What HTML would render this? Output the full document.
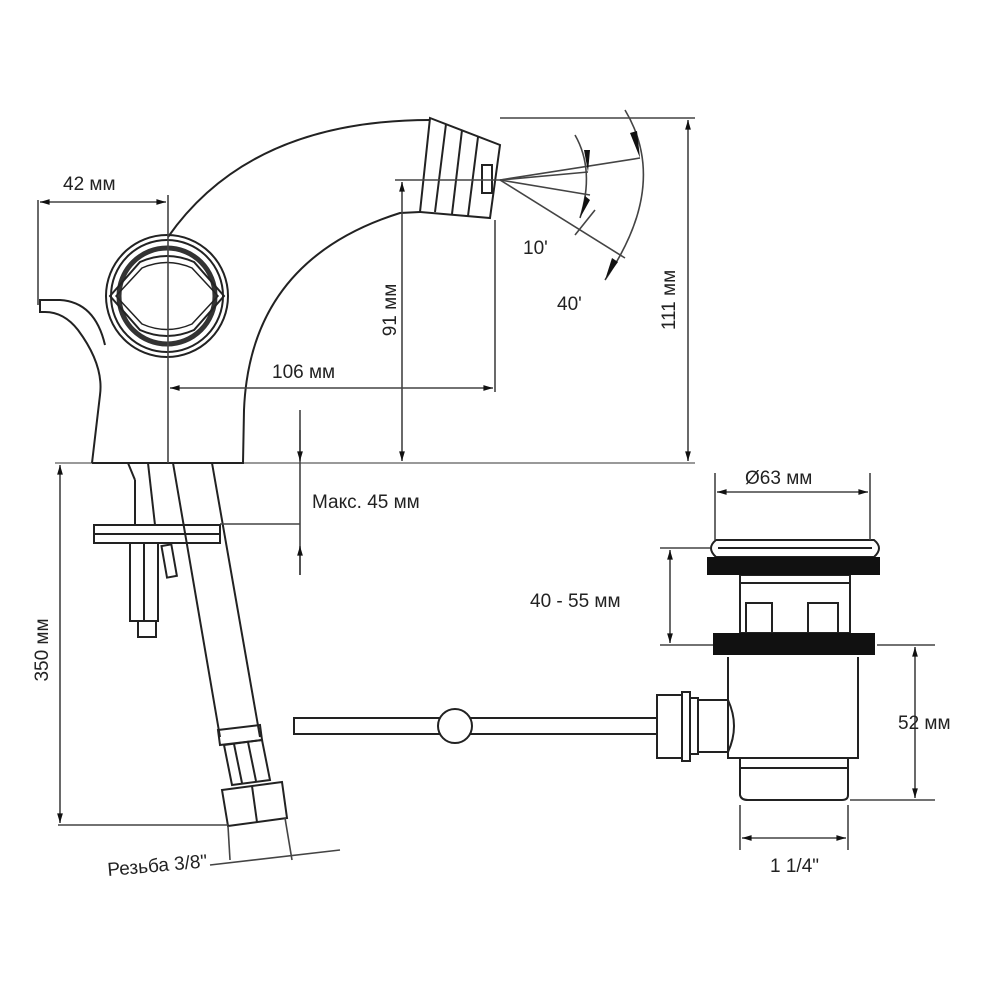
<!DOCTYPE html>
<html><head><meta charset="utf-8"><style>html,body{margin:0;padding:0;background:#fff}svg{display:block}text{font-family:"Liberation Sans",sans-serif;font-size:19px;fill:#222}</style></head><body>
<svg width="1000" height="1000" viewBox="0 0 1000 1000" xmlns="http://www.w3.org/2000/svg">
<defs><marker id="a" viewBox="0 0 10 10" refX="10" refY="5" markerWidth="8" markerHeight="6" orient="auto-start-reverse"><path d="M0,2 L10,5 L0,8z" fill="#111"/></marker></defs>
<g fill="none" stroke="#222" stroke-width="2">
<line x1="55" y1="463" x2="695" y2="463" stroke="#999"/>
<path d="M92,463 L100,395 Q104,365 78,330 Q64,312 45,312 L40,312 L40,300 L60,300 Q95,302 105,345"/>
<path d="M92,463 L243,463 L244,410 Q250,260 400,213 L420,212"/>
<path d="M168,237 Q250,120 430,120"/>
<polygon points="430,118 500,145 490,218 420,212"/>
<line x1="446" y1="124" x2="435" y2="212"/><line x1="462" y1="130" x2="452" y2="214"/><line x1="478" y1="137" x2="468" y2="216"/>
<rect x="482" y="165" width="10" height="28"/>
<circle cx="167" cy="296" r="61"/><circle cx="167" cy="296" r="56"/>
<circle cx="167" cy="296" r="48" stroke-width="5" stroke="#333"/>
<path d="M110,296 L140,262 Q167,250 194,262 L224,296 L194,330 Q167,342 140,330 Z" stroke-width="2"/>
<path d="M116,296 L142,268 Q167,257 192,268 L218,296 L192,324 Q167,335 142,324 Z" stroke-width="1.5"/>
<line x1="128" y1="463" x2="135" y2="480"/><line x1="148" y1="463" x2="155" y2="525"/>
<line x1="173" y1="463" x2="220" y2="737"/><line x1="212" y1="463" x2="260" y2="737"/>
<line x1="135" y1="480" x2="135" y2="525"/>
<rect x="94" y="525" width="126" height="18"/><line x1="94" y1="534" x2="220" y2="534"/>
<rect x="130" y="543" width="28" height="78"/><line x1="144" y1="543" x2="144" y2="621"/>
<rect x="138" y="621" width="18" height="16"/>
<rect x="164" y="545" width="10" height="32" transform="rotate(-10 169 560)"/>
<polygon points="218,730 260,725 262,740 220,745"/>
<polygon points="224,745 262,740 270,780 232,785"/>
<line x1="234" y1="744" x2="242" y2="783"/><line x1="248" y1="742" x2="256" y2="781"/>
<polygon points="222,790 282,782 287,818 228,826"/><line x1="252" y1="786" x2="257" y2="822"/>
<rect x="294" y="718" width="363" height="16"/>
<circle cx="455" cy="726" r="17" fill="#fff"/>
<rect x="657" y="695" width="25" height="63"/><rect x="682" y="692" width="8" height="69"/><rect x="690" y="698" width="8" height="56"/>
<path d="M698,700 L728,700 Q740,726 728,752 L698,752"/>
<path d="M728,657 L728,758 L858,758 L858,657"/>
<path d="M740,758 L740,795 Q741,800 748,800 L842,800 Q848,800 848,795 L848,758"/><line x1="740" y1="768" x2="848" y2="768"/>
<rect x="740" y="575" width="110" height="58"/><line x1="740" y1="583" x2="850" y2="583"/>
<rect x="746" y="603" width="26" height="30"/><rect x="808" y="603" width="30" height="30"/>
<path d="M716,540 L874,540 Q884,548 874,557 L716,557 Q706,548 716,540z"/><line x1="718" y1="548" x2="872" y2="548"/>
</g>
<rect x="707" y="557" width="173" height="18" fill="#111"/>
<rect x="713" y="633" width="162" height="22" fill="#111"/>
<g fill="none" stroke="#444" stroke-width="1.6">
<line x1="38" y1="200" x2="38" y2="305"/><line x1="168" y1="195" x2="168" y2="463"/>
<line x1="40" y1="202" x2="166" y2="202" marker-start="url(#a)" marker-end="url(#a)"/>
<line x1="495" y1="220" x2="495" y2="392"/>
<line x1="170" y1="388" x2="493" y2="388" marker-start="url(#a)" marker-end="url(#a)"/>
<line x1="395" y1="180" x2="500" y2="180"/>
<line x1="402" y1="182" x2="402" y2="461" marker-start="url(#a)" marker-end="url(#a)"/>
<line x1="500" y1="118" x2="695" y2="118"/>
<line x1="688" y1="120" x2="688" y2="461" marker-start="url(#a)" marker-end="url(#a)"/>
<line x1="300" y1="410" x2="300" y2="575"/><line x1="220" y1="524" x2="300" y2="524"/>
<line x1="300" y1="430" x2="300" y2="461" marker-end="url(#a)"/><line x1="300" y1="575" x2="300" y2="546" marker-end="url(#a)"/>
<line x1="60" y1="465" x2="60" y2="823" marker-start="url(#a)" marker-end="url(#a)"/>
<line x1="58" y1="825" x2="228" y2="825"/>
<line x1="228" y1="826" x2="230" y2="860"/><line x1="285" y1="818" x2="292" y2="860"/>
<line x1="210" y1="865" x2="340" y2="850"/>
<line x1="500" y1="180" x2="640" y2="158"/><line x1="500" y1="180" x2="588" y2="172"/>
<line x1="500" y1="180" x2="590" y2="195"/><line x1="500" y1="180" x2="625" y2="258"/>
<line x1="575" y1="235" x2="595" y2="210"/>
<path d="M575,135 Q595,170 580,218"/>
<path d="M625,110 Q670,185 605,280"/>
<line x1="715" y1="473" x2="715" y2="540"/><line x1="870" y1="473" x2="870" y2="540"/>
<line x1="717" y1="492" x2="868" y2="492" marker-start="url(#a)" marker-end="url(#a)"/>
<line x1="660" y1="548" x2="710" y2="548"/><line x1="660" y1="645" x2="713" y2="645"/>
<line x1="670" y1="550" x2="670" y2="643" marker-start="url(#a)" marker-end="url(#a)"/>
<line x1="877" y1="645" x2="935" y2="645"/><line x1="850" y1="800" x2="935" y2="800"/>
<line x1="915" y1="647" x2="915" y2="798" marker-start="url(#a)" marker-end="url(#a)"/>
<line x1="740" y1="805" x2="740" y2="850"/><line x1="848" y1="805" x2="848" y2="850"/>
<line x1="742" y1="838" x2="846" y2="838" marker-start="url(#a)" marker-end="url(#a)"/>
</g>
<g fill="#111"><polygon points="640,158 630,133 637,131"/><polygon points="588,172 584,150 590,150"/><polygon points="580,218 585,196 590,200"/><polygon points="605,280 612,258 618,262"/></g>
<text x="63" y="190">42 мм</text>
<text x="272" y="378">106 мм</text>
<text transform="translate(396,310) rotate(-90)" text-anchor="middle">91 мм</text>
<text transform="translate(675,300) rotate(-90)" text-anchor="middle">111 мм</text>
<text x="523" y="254">10'</text>
<text x="557" y="310">40'</text>
<text x="312" y="508">Макс. 45 мм</text>
<text transform="translate(48,650) rotate(-90)" text-anchor="middle">350 мм</text>
<text x="108" y="876" transform="rotate(-5 108 876)">Резьба 3/8"</text>
<text x="745" y="484">Ø63 мм</text>
<text x="530" y="607">40 - 55 мм</text>
<text x="898" y="729">52 мм</text>
<text x="770" y="872">1 1/4"</text>
</svg>
</body></html>
